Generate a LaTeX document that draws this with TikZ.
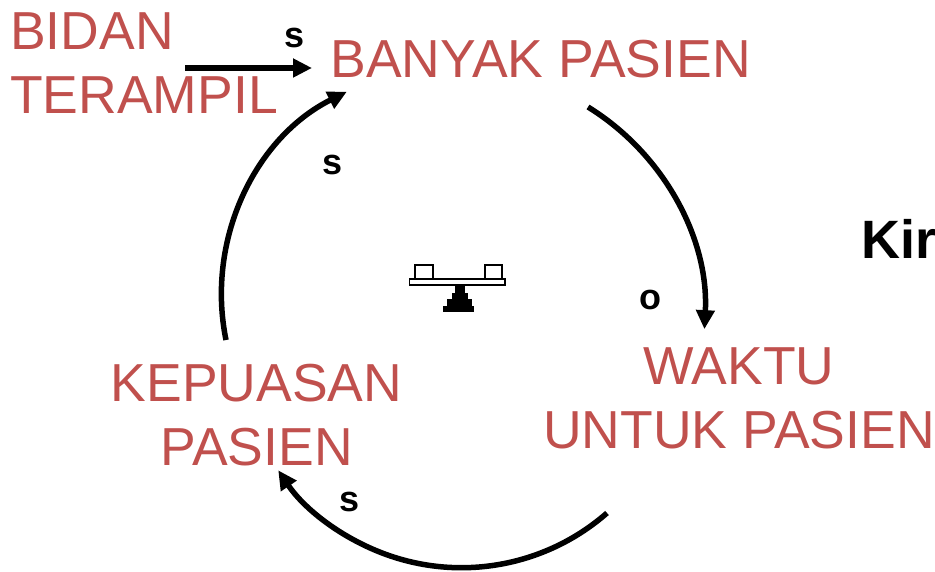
\documentclass[tikz,border=0pt]{standalone}
\usepackage{fontspec}
\setmainfont{Liberation Sans}
\usetikzlibrary{arrows.meta}
\definecolor{redtxt}{HTML}{C0504D}
\begin{document}
\begin{tikzpicture}[x=1pt,y=1pt,
  lbl/.style={text=redtxt, font=\fontsize{53.5}{64}\selectfont, inner sep=0pt, align=center},
  pol/.style={font=\bfseries\fontsize{36}{40}\selectfont, inner sep=0pt},
  arr/.style={line width=5.5pt, -{Triangle[length=19pt,width=18pt]}},
  icon/.style={draw=black, line width=1.4pt, fill=white},
  ]
\useasboundingbox (0,0) rectangle (935,-572);

% variable nodes
\node[lbl, anchor=north] (banyak) at (540.5,-40) {BANYAK PASIEN};
\node[lbl, anchor=north] (waktu) at (739,-347) {WAKTU\\UNTUK PASIEN};
\node[lbl, anchor=north] (kepuasan) at (256.5,-364) {KEPUASAN\\PASIEN};
\node[lbl, anchor=north west, align=left] (bidan) at (10,-12) {BIDAN\\TERAMPIL};

% connector end points
\coordinate (h1) at (185,-68);
\coordinate (h2) at (312,-68);
\coordinate (r1) at (588,-107);
\coordinate (b1) at (607,-513);
\coordinate (l1) at (226,-340);

% connectors
\draw[arr] (h1) -- (h2);
\draw[arr] (r1) arc[start angle=58.3, end angle=-3, radius=246pt];
\draw[arr] (b1) arc[start angle=-48.8, end angle=-146, radius=221pt];
\draw[arr] (l1) arc[start angle=191.5, end angle=116.6, radius=227pt];

% polarity labels
\node[pol] (p1) at (295,-38) {s};
\node[pol] (p2) at (333,-165) {s};
\node[pol] (p3) at (650,-300) {o};
\node[pol] (p4) at (350,-502) {s};

% Kir text
\node[font=\bfseries\fontsize{54}{60}\selectfont, inner sep=0pt, anchor=base west] (kir) at (861,-259) {Kir};

% balance icon
\draw[icon] (415,-265) rectangle (433,-279);
\draw[icon] (485,-265) rectangle (502,-279);
\draw[icon] (409.5,-279) rectangle (505,-285);
\fill[black] (455,-286) rectangle (465,-293);
\fill[black] (452,-293) rectangle (468,-299);
\fill[black] (447,-299) rectangle (472,-306);
\fill[black] (443,-306) rectangle (474,-312);
\end{tikzpicture}
\end{document}
